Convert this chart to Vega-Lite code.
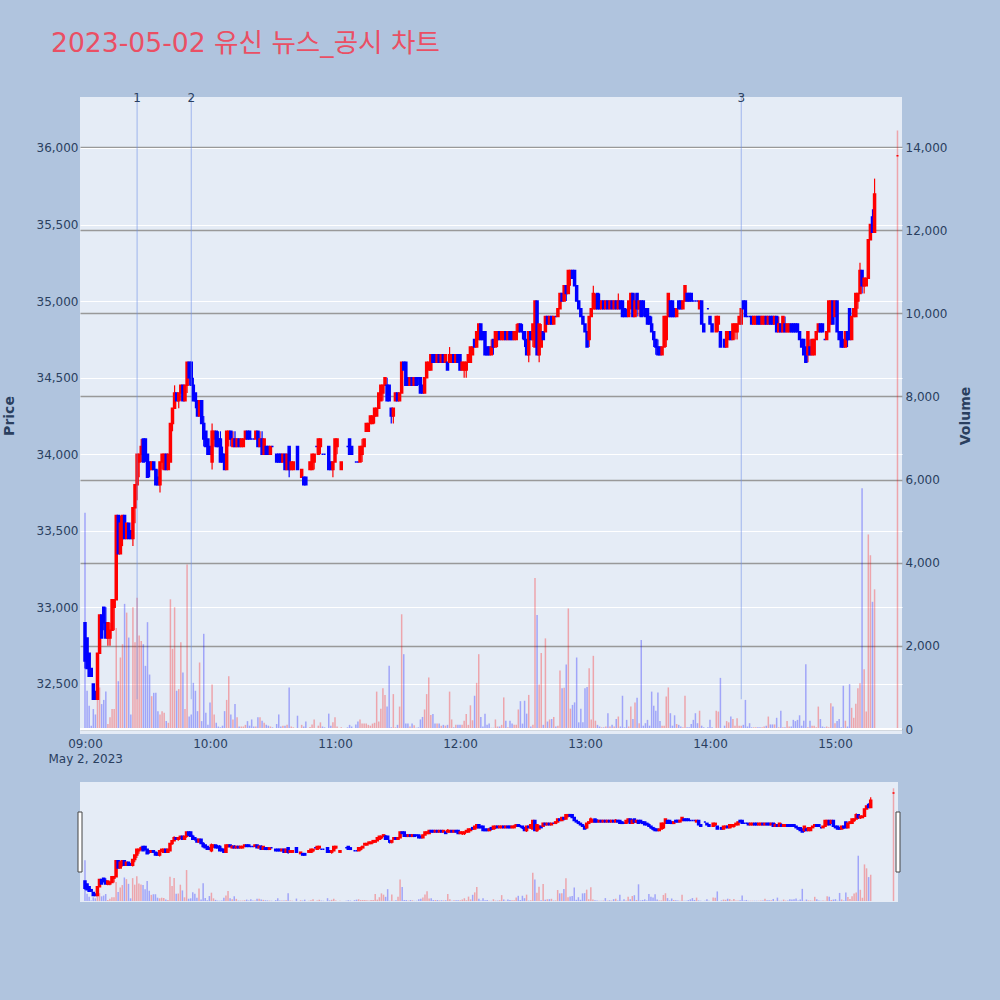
{
"$schema": "https://vega.github.io/schema/vega-lite/v6.json",
"background": "#b0c4de",
"padding": {"left": 2, "top": 31, "right": 27, "bottom": 101},
"title": {"text": "2023-05-02 유신 뉴스_공시 차트", "anchor": "start", "fontSize": 26.6, "fontWeight": "normal", "color": "#ea4f64", "font": "DejaVu Sans, Noto Sans CJK KR", "offset": 34, "dx": 49},
"config": {
  "font": "DejaVu Sans",
  "view": {"fill": "#e5ecf6", "stroke": null},
  "axis": {"labelColor": "#2a3f5f", "labelFontSize": 12, "titleColor": "#2a3f5f", "domain": false, "ticks": false, "labelFont": "DejaVu Sans", "titleFont": "DejaVu Sans"}
},
"data": {"format": {"parse": {"t": "date:'%H:%M'"}}, "values": [
{"t":"09:00","o":32900,"h":32900,"l":32600,"c":32650,"v":5200},
{"t":"09:01","o":32800,"h":32800,"l":32600,"c":32600,"v":920},
{"t":"09:02","o":32700,"h":32700,"l":32550,"c":32550,"v":560},
{"t":"09:03","o":32600,"h":32600,"l":32550,"c":32550,"v":80},
{"t":"09:04","o":32500,"h":32500,"l":32400,"c":32400,"v":480},
{"t":"09:05","o":32450,"h":32450,"l":32400,"c":32400,"v":350},
{"t":"09:06","o":32400,"h":32700,"l":32400,"c":32700,"v":840},
{"t":"09:07","o":32700,"h":32950,"l":32700,"c":32950,"v":1000},
{"t":"09:08","o":32950,"h":32950,"l":32800,"c":32800,"v":600},
{"t":"09:09","o":33000,"h":33000,"l":32850,"c":32900,"v":700},
{"t":"09:10","o":32900,"h":33000,"l":32800,"c":32800,"v":900},
{"t":"09:11","o":32800,"h":32900,"l":32750,"c":32900,"v":120},
{"t":"09:12","o":32800,"h":32900,"l":32750,"c":32850,"v":280},
{"t":"09:13","o":32850,"h":33050,"l":32850,"c":33050,"v":480},
{"t":"09:14","o":33000,"h":33050,"l":32850,"c":33050,"v":480},
{"t":"09:15","o":33050,"h":33600,"l":33050,"c":33600,"v":2430},
{"t":"09:16","o":33600,"h":33600,"l":33350,"c":33350,"v":1150},
{"t":"09:17","o":33350,"h":33600,"l":33350,"c":33550,"v":1720},
{"t":"09:18","o":33450,"h":33600,"l":33400,"c":33600,"v":2040},
{"t":"09:19","o":33600,"h":33600,"l":33450,"c":33450,"v":3010},
{"t":"09:20","o":33450,"h":33550,"l":33450,"c":33550,"v":2800},
{"t":"09:21","o":33550,"h":33550,"l":33450,"c":33450,"v":2200},
{"t":"09:22","o":33500,"h":33500,"l":33450,"c":33450,"v":350},
{"t":"09:23","o":33450,"h":33650,"l":33400,"c":33650,"v":2930},
{"t":"09:24","o":33650,"h":33800,"l":33550,"c":33800,"v":2090},
{"t":"09:25","o":33800,"h":34000,"l":33700,"c":34000,"v":3160},
{"t":"09:26","o":33950,"h":34000,"l":33850,"c":34000,"v":2250},
{"t":"09:27","o":34000,"h":34100,"l":33950,"c":34050,"v":2120},
{"t":"09:28","o":34100,"h":34100,"l":33950,"c":33950,"v":2040},
{"t":"09:29","o":34100,"h":34100,"l":33950,"c":34000,"v":1520},
{"t":"09:30","o":34000,"h":34000,"l":33850,"c":33850,"v":2570},
{"t":"09:31","o":33950,"h":33950,"l":33850,"c":33900,"v":1310},
{"t":"09:32","o":33900,"h":33950,"l":33900,"c":33950,"v":790},
{"t":"09:33","o":33950,"h":33950,"l":33900,"c":33900,"v":870},
{"t":"09:34","o":33900,"h":33900,"l":33800,"c":33800,"v":870},
{"t":"09:35","o":33850,"h":33900,"l":33800,"c":33800,"v":430},
{"t":"09:36","o":33800,"h":33950,"l":33750,"c":33950,"v":350},
{"t":"09:37","o":33950,"h":34000,"l":33900,"c":34000,"v":430},
{"t":"09:38","o":33900,"h":34000,"l":33900,"c":34000,"v":390},
{"t":"09:39","o":34000,"h":34000,"l":33900,"c":33900,"v":190},
{"t":"09:40","o":33900,"h":34000,"l":33900,"c":34000,"v":150},
{"t":"09:41","o":33950,"h":34200,"l":33950,"c":34200,"v":3120},
{"t":"09:42","o":34200,"h":34300,"l":34150,"c":34300,"v":1930},
{"t":"09:43","o":34300,"h":34450,"l":34300,"c":34400,"v":2930},
{"t":"09:44","o":34400,"h":34400,"l":34350,"c":34350,"v":920},
{"t":"09:45","o":34350,"h":34400,"l":34300,"c":34400,"v":960},
{"t":"09:46","o":34400,"h":34450,"l":34350,"c":34450,"v":2090},
{"t":"09:47","o":34450,"h":34450,"l":34350,"c":34350,"v":1360},
{"t":"09:48","o":34350,"h":34450,"l":34350,"c":34450,"v":480},
{"t":"09:49","o":34450,"h":34600,"l":34400,"c":34600,"v":3960},
{"t":"09:50","o":34600,"h":34600,"l":34450,"c":34500,"v":300},
{"t":"09:51","o":34600,"h":34600,"l":34450,"c":34450,"v":350},
{"t":"09:52","o":34450,"h":34500,"l":34350,"c":34350,"v":1110},
{"t":"09:53","o":34400,"h":34400,"l":34300,"c":34350,"v":920},
{"t":"09:54","o":34350,"h":34350,"l":34250,"c":34250,"v":430},
{"t":"09:55","o":34250,"h":34350,"l":34250,"c":34350,"v":1600},
{"t":"09:56","o":34350,"h":34350,"l":34200,"c":34200,"v":190},
{"t":"09:57","o":34200,"h":34250,"l":34050,"c":34100,"v":2290},
{"t":"09:58","o":34150,"h":34150,"l":34050,"c":34050,"v":390},
{"t":"09:59","o":34100,"h":34100,"l":34000,"c":34000,"v":100},
{"t":"10:00","o":34050,"h":34050,"l":34000,"c":34000,"v":640},
{"t":"10:01","o":33950,"h":34200,"l":33900,"c":34150,"v":1070},
{"t":"10:02","o":34100,"h":34150,"l":34050,"c":34150,"v":350},
{"t":"10:03","o":34150,"h":34150,"l":34050,"c":34050,"v":150},
{"t":"10:04","o":34100,"h":34150,"l":34050,"c":34050,"v":60},
{"t":"10:05","o":34100,"h":34150,"l":33950,"c":33950,"v":40},
{"t":"10:06","o":34000,"h":34050,"l":33950,"c":33950,"v":80},
{"t":"10:07","o":34000,"h":34000,"l":33900,"c":33900,"v":430},
{"t":"10:08","o":33900,"h":34150,"l":33900,"c":34150,"v":700},
{"t":"10:09","o":34100,"h":34150,"l":34050,"c":34150,"v":1270},
{"t":"10:10","o":34150,"h":34150,"l":34050,"c":34100,"v":350},
{"t":"10:11","o":34050,"h":34150,"l":34050,"c":34100,"v":230},
{"t":"10:12","o":34100,"h":34150,"l":34050,"c":34050,"v":600},
{"t":"10:13","o":34050,"h":34100,"l":34050,"c":34100,"v":280},
{"t":"10:14","o":34100,"h":34100,"l":34050,"c":34050,"v":60},
{"t":"10:15","o":34050,"h":34100,"l":34050,"c":34100,"v":60},
{"t":"10:16","o":34050,"h":34100,"l":34050,"c":34100,"v":60},
{"t":"10:17","o":34100,"h":34150,"l":34100,"c":34150,"v":100},
{"t":"10:18","o":34150,"h":34150,"l":34100,"c":34100,"v":190},
{"t":"10:19","o":34150,"h":34150,"l":34100,"c":34100,"v":80},
{"t":"10:20","o":34100,"h":34100,"l":34100,"c":34100,"v":230},
{"t":"10:21","o":34100,"h":34100,"l":34100,"c":34100,"v":60},
{"t":"10:22","o":34100,"h":34150,"l":34100,"c":34150,"v":60},
{"t":"10:23","o":34150,"h":34150,"l":34050,"c":34050,"v":280},
{"t":"10:24","o":34050,"h":34150,"l":34050,"c":34100,"v":280},
{"t":"10:25","o":34100,"h":34150,"l":34000,"c":34000,"v":200},
{"t":"10:26","o":34000,"h":34100,"l":34000,"c":34100,"v":150},
{"t":"10:27","o":34050,"h":34050,"l":34000,"c":34000,"v":100},
{"t":"10:28","o":34050,"h":34050,"l":34000,"c":34000,"v":80},
{"t":"10:29","o":34000,"h":34050,"l":34000,"c":34050,"v":60},
{"t":"10:30","o":34050,"h":34050,"l":34050,"c":34050,"v":40},
{"t":"10:32","o":34000,"h":34000,"l":33950,"c":33950,"v":120},
{"t":"10:33","o":34000,"h":34000,"l":33950,"c":33950,"v":350},
{"t":"10:34","o":34000,"h":34000,"l":33950,"c":33950,"v":60},
{"t":"10:35","o":33950,"h":34000,"l":33950,"c":34000,"v":80},
{"t":"10:36","o":34000,"h":34000,"l":33900,"c":33900,"v":80},
{"t":"10:37","o":33900,"h":34000,"l":33900,"c":34000,"v":100},
{"t":"10:38","o":34050,"h":34050,"l":33850,"c":33900,"v":1000},
{"t":"10:39","o":33900,"h":33950,"l":33900,"c":33950,"v":60},
{"t":"10:40","o":33900,"h":33950,"l":33900,"c":33950,"v":40},
{"t":"10:42","o":34050,"h":34050,"l":33900,"c":33900,"v":320},
{"t":"10:44","o":33850,"h":33900,"l":33850,"c":33900,"v":100},
{"t":"10:45","o":33850,"h":33850,"l":33800,"c":33800,"v":60},
{"t":"10:46","o":33850,"h":33850,"l":33800,"c":33800,"v":180},
{"t":"10:48","o":33900,"h":33950,"l":33900,"c":33950,"v":50},
{"t":"10:49","o":33900,"h":34000,"l":33900,"c":34000,"v":110},
{"t":"10:50","o":33950,"h":34000,"l":33900,"c":34000,"v":230},
{"t":"10:51","o":34050,"h":34050,"l":34050,"c":34050,"v":20},
{"t":"10:52","o":34000,"h":34100,"l":34000,"c":34100,"v":80},
{"t":"10:53","o":34050,"h":34100,"l":34000,"c":34100,"v":160},
{"t":"10:54","o":34000,"h":34000,"l":34000,"c":34000,"v":60},
{"t":"10:55","o":34000,"h":34000,"l":34000,"c":34000,"v":40},
{"t":"10:57","o":34050,"h":34050,"l":33900,"c":33900,"v":370},
{"t":"10:58","o":33950,"h":33950,"l":33900,"c":33900,"v":80},
{"t":"10:59","o":33900,"h":33950,"l":33850,"c":33950,"v":160},
{"t":"11:00","o":33950,"h":34100,"l":33950,"c":34100,"v":280},
{"t":"11:01","o":34050,"h":34100,"l":34000,"c":34100,"v":60},
{"t":"11:03","o":33900,"h":33950,"l":33900,"c":33950,"v":40},
{"t":"11:06","o":34050,"h":34050,"l":34050,"c":34050,"v":40},
{"t":"11:07","o":34100,"h":34100,"l":34000,"c":34000,"v":100},
{"t":"11:08","o":34050,"h":34050,"l":34000,"c":34000,"v":60},
{"t":"11:10","o":33950,"h":33950,"l":33950,"c":33950,"v":110},
{"t":"11:11","o":33950,"h":33950,"l":33950,"c":33950,"v":180},
{"t":"11:12","o":33950,"h":34050,"l":33950,"c":34050,"v":230},
{"t":"11:13","o":34000,"h":34100,"l":33950,"c":34050,"v":130},
{"t":"11:14","o":34050,"h":34100,"l":34050,"c":34100,"v":130},
{"t":"11:15","o":34150,"h":34200,"l":34150,"c":34200,"v":130},
{"t":"11:16","o":34150,"h":34200,"l":34150,"c":34200,"v":100},
{"t":"11:17","o":34200,"h":34250,"l":34200,"c":34250,"v":80},
{"t":"11:18","o":34200,"h":34250,"l":34200,"c":34250,"v":130},
{"t":"11:19","o":34250,"h":34300,"l":34200,"c":34300,"v":150},
{"t":"11:20","o":34250,"h":34300,"l":34250,"c":34300,"v":900},
{"t":"11:21","o":34300,"h":34400,"l":34300,"c":34400,"v":180},
{"t":"11:22","o":34350,"h":34450,"l":34350,"c":34450,"v":490},
{"t":"11:23","o":34400,"h":34450,"l":34350,"c":34450,"v":980},
{"t":"11:24","o":34450,"h":34500,"l":34450,"c":34500,"v":820},
{"t":"11:25","o":34450,"h":34500,"l":34350,"c":34350,"v":540},
{"t":"11:26","o":34450,"h":34450,"l":34350,"c":34350,"v":1520},
{"t":"11:27","o":34300,"h":34300,"l":34200,"c":34250,"v":40},
{"t":"11:28","o":34250,"h":34300,"l":34200,"c":34300,"v":840},
{"t":"11:29","o":34350,"h":34400,"l":34350,"c":34400,"v":40},
{"t":"11:30","o":34400,"h":34400,"l":34350,"c":34350,"v":100},
{"t":"11:31","o":34350,"h":34400,"l":34350,"c":34400,"v":540},
{"t":"11:32","o":34400,"h":34600,"l":34400,"c":34600,"v":2760},
{"t":"11:33","o":34600,"h":34600,"l":34550,"c":34550,"v":1800},
{"t":"11:34","o":34600,"h":34600,"l":34450,"c":34450,"v":130},
{"t":"11:35","o":34500,"h":34500,"l":34450,"c":34450,"v":130},
{"t":"11:36","o":34450,"h":34500,"l":34450,"c":34500,"v":60},
{"t":"11:37","o":34500,"h":34500,"l":34450,"c":34450,"v":130},
{"t":"11:38","o":34450,"h":34500,"l":34450,"c":34500,"v":90},
{"t":"11:39","o":34500,"h":34500,"l":34450,"c":34450,"v":30},
{"t":"11:40","o":34500,"h":34500,"l":34450,"c":34500,"v":40},
{"t":"11:41","o":34500,"h":34500,"l":34400,"c":34400,"v":230},
{"t":"11:42","o":34450,"h":34450,"l":34400,"c":34400,"v":290},
{"t":"11:43","o":34400,"h":34500,"l":34400,"c":34500,"v":470},
{"t":"11:44","o":34500,"h":34600,"l":34500,"c":34600,"v":840},
{"t":"11:45","o":34550,"h":34600,"l":34550,"c":34600,"v":1240},
{"t":"11:46","o":34550,"h":34650,"l":34550,"c":34650,"v":340},
{"t":"11:47","o":34650,"h":34650,"l":34600,"c":34600,"v":360},
{"t":"11:48","o":34650,"h":34650,"l":34600,"c":34600,"v":130},
{"t":"11:49","o":34600,"h":34650,"l":34600,"c":34650,"v":130},
{"t":"11:50","o":34650,"h":34650,"l":34600,"c":34600,"v":130},
{"t":"11:51","o":34600,"h":34650,"l":34600,"c":34650,"v":80},
{"t":"11:52","o":34650,"h":34650,"l":34600,"c":34600,"v":100},
{"t":"11:53","o":34600,"h":34650,"l":34600,"c":34650,"v":80},
{"t":"11:54","o":34600,"h":34600,"l":34550,"c":34550,"v":100},
{"t":"11:55","o":34600,"h":34700,"l":34600,"c":34650,"v":900},
{"t":"11:56","o":34600,"h":34650,"l":34600,"c":34650,"v":230},
{"t":"11:57","o":34650,"h":34650,"l":34600,"c":34600,"v":40},
{"t":"11:58","o":34600,"h":34650,"l":34600,"c":34650,"v":100},
{"t":"11:59","o":34650,"h":34650,"l":34600,"c":34600,"v":100},
{"t":"12:00","o":34650,"h":34650,"l":34550,"c":34550,"v":100},
{"t":"12:01","o":34550,"h":34600,"l":34550,"c":34600,"v":100},
{"t":"12:02","o":34550,"h":34600,"l":34500,"c":34600,"v":200},
{"t":"12:03","o":34550,"h":34600,"l":34500,"c":34600,"v":360},
{"t":"12:04","o":34600,"h":34650,"l":34600,"c":34650,"v":100},
{"t":"12:05","o":34600,"h":34700,"l":34600,"c":34700,"v":570},
{"t":"12:06","o":34650,"h":34700,"l":34650,"c":34700,"v":210},
{"t":"12:07","o":34750,"h":34750,"l":34700,"c":34700,"v":800},
{"t":"12:08","o":34700,"h":34800,"l":34700,"c":34800,"v":1110},
{"t":"12:09","o":34750,"h":34850,"l":34750,"c":34850,"v":1800},
{"t":"12:10","o":34850,"h":34850,"l":34750,"c":34750,"v":290},
{"t":"12:11","o":34800,"h":34800,"l":34750,"c":34750,"v":60},
{"t":"12:12","o":34800,"h":34800,"l":34650,"c":34650,"v":370},
{"t":"12:13","o":34700,"h":34700,"l":34650,"c":34650,"v":100},
{"t":"12:14","o":34700,"h":34700,"l":34650,"c":34650,"v":130},
{"t":"12:15","o":34650,"h":34750,"l":34650,"c":34700,"v":30},
{"t":"12:16","o":34750,"h":34750,"l":34650,"c":34700,"v":30},
{"t":"12:17","o":34700,"h":34800,"l":34700,"c":34800,"v":230},
{"t":"12:18","o":34750,"h":34800,"l":34700,"c":34800,"v":60},
{"t":"12:19","o":34800,"h":34800,"l":34750,"c":34750,"v":60},
{"t":"12:20","o":34750,"h":34800,"l":34750,"c":34800,"v":100},
{"t":"12:21","o":34750,"h":34800,"l":34750,"c":34800,"v":760},
{"t":"12:22","o":34800,"h":34800,"l":34750,"c":34750,"v":200},
{"t":"12:23","o":34750,"h":34800,"l":34750,"c":34800,"v":40},
{"t":"12:24","o":34800,"h":34800,"l":34750,"c":34750,"v":200},
{"t":"12:25","o":34800,"h":34800,"l":34750,"c":34750,"v":130},
{"t":"12:26","o":34750,"h":34800,"l":34750,"c":34800,"v":100},
{"t":"12:27","o":34750,"h":34850,"l":34750,"c":34800,"v":100},
{"t":"12:28","o":34800,"h":34850,"l":34800,"c":34850,"v":470},
{"t":"12:29","o":34850,"h":34850,"l":34800,"c":34800,"v":670},
{"t":"12:30","o":34800,"h":34850,"l":34750,"c":34800,"v":130},
{"t":"12:31","o":34800,"h":34800,"l":34700,"c":34750,"v":680},
{"t":"12:32","o":34750,"h":34750,"l":34650,"c":34650,"v":370},
{"t":"12:33","o":34650,"h":34800,"l":34600,"c":34800,"v":820},
{"t":"12:34","o":34800,"h":34800,"l":34750,"c":34750,"v":60},
{"t":"12:35","o":34750,"h":34850,"l":34700,"c":34850,"v":100},
{"t":"12:36","o":34700,"h":35000,"l":34700,"c":35000,"v":3630},
{"t":"12:37","o":35000,"h":35000,"l":34650,"c":34650,"v":2740},
{"t":"12:38","o":34650,"h":34850,"l":34600,"c":34850,"v":1070},
{"t":"12:39","o":34700,"h":34850,"l":34700,"c":34800,"v":1830},
{"t":"12:40","o":34800,"h":34800,"l":34750,"c":34750,"v":100},
{"t":"12:41","o":34800,"h":34900,"l":34800,"c":34900,"v":2180},
{"t":"12:42","o":34900,"h":34900,"l":34850,"c":34850,"v":180},
{"t":"12:43","o":34850,"h":34900,"l":34850,"c":34900,"v":230},
{"t":"12:44","o":34900,"h":34900,"l":34850,"c":34850,"v":240},
{"t":"12:45","o":34850,"h":34900,"l":34850,"c":34900,"v":290},
{"t":"12:46","o":34900,"h":34900,"l":34900,"c":34900,"v":60},
{"t":"12:47","o":34900,"h":34950,"l":34900,"c":34950,"v":80},
{"t":"12:48","o":34950,"h":35050,"l":34950,"c":35050,"v":1410},
{"t":"12:49","o":35050,"h":35050,"l":35000,"c":35000,"v":980},
{"t":"12:50","o":35000,"h":35100,"l":35000,"c":35100,"v":990},
{"t":"12:51","o":35100,"h":35100,"l":35000,"c":35050,"v":1550},
{"t":"12:52","o":35050,"h":35200,"l":35050,"c":35200,"v":2900},
{"t":"12:53","o":35150,"h":35200,"l":35100,"c":35200,"v":490},
{"t":"12:54","o":35200,"h":35200,"l":35150,"c":35150,"v":580},
{"t":"12:55","o":35200,"h":35200,"l":35100,"c":35100,"v":640},
{"t":"12:56","o":35100,"h":35100,"l":35000,"c":35000,"v":1720},
{"t":"12:57","o":35000,"h":35000,"l":34950,"c":34950,"v":160},
{"t":"12:58","o":34950,"h":34950,"l":34900,"c":34900,"v":490},
{"t":"12:59","o":34900,"h":34900,"l":34850,"c":34850,"v":160},
{"t":"13:00","o":34850,"h":34850,"l":34800,"c":34800,"v":980},
{"t":"13:01","o":34800,"h":34800,"l":34700,"c":34700,"v":1010},
{"t":"13:02","o":34750,"h":34900,"l":34700,"c":34900,"v":1460},
{"t":"13:03","o":34900,"h":34950,"l":34900,"c":34950,"v":230},
{"t":"13:04","o":34950,"h":35100,"l":34950,"c":35050,"v":1760},
{"t":"13:05","o":34950,"h":35050,"l":34950,"c":35000,"v":200},
{"t":"13:06","o":35050,"h":35050,"l":34950,"c":34950,"v":100},
{"t":"13:07","o":35000,"h":35050,"l":34950,"c":34950,"v":60},
{"t":"13:08","o":34950,"h":35000,"l":34950,"c":35000,"v":40},
{"t":"13:09","o":35000,"h":35000,"l":34950,"c":34950,"v":40},
{"t":"13:10","o":34950,"h":35000,"l":34950,"c":35000,"v":60},
{"t":"13:11","o":35000,"h":35000,"l":34950,"c":34950,"v":380},
{"t":"13:12","o":34950,"h":35000,"l":34950,"c":35000,"v":60},
{"t":"13:13","o":35000,"h":35000,"l":34950,"c":34950,"v":100},
{"t":"13:14","o":34950,"h":35000,"l":34950,"c":35000,"v":60},
{"t":"13:15","o":35000,"h":35000,"l":34950,"c":34950,"v":240},
{"t":"13:16","o":34950,"h":35050,"l":34950,"c":35000,"v":300},
{"t":"13:17","o":35000,"h":35000,"l":34950,"c":34950,"v":60},
{"t":"13:18","o":35000,"h":35000,"l":34900,"c":34900,"v":800},
{"t":"13:19","o":34950,"h":34950,"l":34900,"c":34900,"v":40},
{"t":"13:20","o":34900,"h":34950,"l":34900,"c":34900,"v":220},
{"t":"13:21","o":34900,"h":35000,"l":34900,"c":35000,"v":60},
{"t":"13:22","o":34950,"h":35050,"l":34950,"c":35050,"v":540},
{"t":"13:23","o":35050,"h":35050,"l":34900,"c":34900,"v":240},
{"t":"13:24","o":34900,"h":35050,"l":34900,"c":35000,"v":640},
{"t":"13:25","o":35050,"h":35050,"l":34900,"c":34950,"v":750},
{"t":"13:26","o":34950,"h":35000,"l":34900,"c":35000,"v":140},
{"t":"13:27","o":35000,"h":35000,"l":34900,"c":34900,"v":2140},
{"t":"13:28","o":35000,"h":35000,"l":34900,"c":34950,"v":80},
{"t":"13:29","o":34950,"h":34950,"l":34900,"c":34900,"v":140},
{"t":"13:30","o":34950,"h":34950,"l":34850,"c":34850,"v":220},
{"t":"13:31","o":34900,"h":34900,"l":34850,"c":34850,"v":80},
{"t":"13:32","o":34850,"h":34900,"l":34800,"c":34800,"v":900},
{"t":"13:33","o":34800,"h":34800,"l":34700,"c":34750,"v":560},
{"t":"13:34","o":34750,"h":34750,"l":34650,"c":34700,"v":440},
{"t":"13:35","o":34700,"h":34750,"l":34650,"c":34650,"v":880},
{"t":"13:36","o":34700,"h":34700,"l":34650,"c":34650,"v":190},
{"t":"13:37","o":34650,"h":34700,"l":34650,"c":34700,"v":80},
{"t":"13:38","o":34700,"h":34900,"l":34700,"c":34900,"v":80},
{"t":"13:39","o":34750,"h":34900,"l":34700,"c":34900,"v":780},
{"t":"13:40","o":34900,"h":35050,"l":34900,"c":35050,"v":1000},
{"t":"13:41","o":35000,"h":35000,"l":34900,"c":34900,"v":380},
{"t":"13:42","o":35000,"h":35000,"l":34900,"c":34900,"v":80},
{"t":"13:43","o":34950,"h":34950,"l":34900,"c":34900,"v":330},
{"t":"13:44","o":34900,"h":34950,"l":34900,"c":34950,"v":120},
{"t":"13:45","o":35000,"h":35000,"l":34950,"c":34950,"v":100},
{"t":"13:46","o":35000,"h":35000,"l":34950,"c":34950,"v":60},
{"t":"13:47","o":34950,"h":35000,"l":34950,"c":35000,"v":40},
{"t":"13:48","o":35000,"h":35100,"l":35000,"c":35100,"v":800},
{"t":"13:49","o":35050,"h":35050,"l":35000,"c":35000,"v":40},
{"t":"13:50","o":35050,"h":35050,"l":35000,"c":35000,"v":40},
{"t":"13:51","o":35050,"h":35050,"l":35000,"c":35000,"v":120},
{"t":"13:52","o":35000,"h":35000,"l":35000,"c":35000,"v":220},
{"t":"13:53","o":35000,"h":35000,"l":35000,"c":35000,"v":380},
{"t":"13:54","o":35000,"h":35000,"l":35000,"c":35000,"v":140},
{"t":"13:55","o":34950,"h":35000,"l":34950,"c":35000,"v":440},
{"t":"13:56","o":35000,"h":35000,"l":34850,"c":34850,"v":80},
{"t":"13:57","o":34850,"h":34850,"l":34800,"c":34800,"v":40},
{"t":"13:59","o":34950,"h":34950,"l":34950,"c":34950,"v":40},
{"t":"14:00","o":34900,"h":34900,"l":34850,"c":34850,"v":220},
{"t":"14:01","o":34850,"h":34850,"l":34800,"c":34800,"v":40},
{"t":"14:03","o":34800,"h":34900,"l":34800,"c":34900,"v":440},
{"t":"14:04","o":34850,"h":34900,"l":34800,"c":34900,"v":420},
{"t":"14:05","o":34800,"h":34800,"l":34700,"c":34700,"v":1230},
{"t":"14:07","o":34750,"h":34750,"l":34700,"c":34700,"v":80},
{"t":"14:08","o":34700,"h":34800,"l":34700,"c":34800,"v":190},
{"t":"14:09","o":34750,"h":34800,"l":34750,"c":34800,"v":160},
{"t":"14:10","o":34800,"h":34800,"l":34750,"c":34750,"v":300},
{"t":"14:11","o":34750,"h":34850,"l":34750,"c":34850,"v":240},
{"t":"14:12","o":34800,"h":34850,"l":34750,"c":34850,"v":80},
{"t":"14:13","o":34800,"h":34850,"l":34750,"c":34850,"v":260},
{"t":"14:14","o":34850,"h":34900,"l":34850,"c":34900,"v":80},
{"t":"14:15","o":34850,"h":34950,"l":34850,"c":34950,"v":80},
{"t":"14:16","o":35000,"h":35000,"l":34950,"c":34950,"v":100},
{"t":"14:17","o":35000,"h":35000,"l":34900,"c":34900,"v":700},
{"t":"14:18","o":34900,"h":34900,"l":34900,"c":34900,"v":60},
{"t":"14:19","o":34900,"h":34900,"l":34900,"c":34900,"v":140},
{"t":"14:20","o":34900,"h":34900,"l":34850,"c":34850,"v":40},
{"t":"14:21","o":34850,"h":34900,"l":34850,"c":34900,"v":40},
{"t":"14:22","o":34850,"h":34900,"l":34850,"c":34900,"v":40},
{"t":"14:23","o":34900,"h":34900,"l":34850,"c":34850,"v":40},
{"t":"14:24","o":34900,"h":34900,"l":34850,"c":34850,"v":40},
{"t":"14:25","o":34850,"h":34900,"l":34850,"c":34900,"v":40},
{"t":"14:26","o":34850,"h":34900,"l":34850,"c":34900,"v":60},
{"t":"14:27","o":34900,"h":34900,"l":34850,"c":34850,"v":80},
{"t":"14:28","o":34850,"h":34900,"l":34850,"c":34900,"v":300},
{"t":"14:29","o":34900,"h":34900,"l":34850,"c":34850,"v":110},
{"t":"14:30","o":34900,"h":34900,"l":34850,"c":34850,"v":110},
{"t":"14:31","o":34850,"h":34900,"l":34850,"c":34900,"v":110},
{"t":"14:32","o":34900,"h":34900,"l":34800,"c":34800,"v":270},
{"t":"14:33","o":34800,"h":34900,"l":34800,"c":34850,"v":40},
{"t":"14:34","o":34850,"h":34850,"l":34800,"c":34800,"v":440},
{"t":"14:35","o":34800,"h":34900,"l":34800,"c":34900,"v":40},
{"t":"14:36","o":34850,"h":34900,"l":34800,"c":34800,"v":40},
{"t":"14:37","o":34800,"h":34850,"l":34800,"c":34850,"v":190},
{"t":"14:38","o":34800,"h":34850,"l":34800,"c":34850,"v":60},
{"t":"14:39","o":34850,"h":34850,"l":34800,"c":34800,"v":60},
{"t":"14:40","o":34850,"h":34850,"l":34800,"c":34800,"v":220},
{"t":"14:41","o":34850,"h":34850,"l":34800,"c":34800,"v":190},
{"t":"14:42","o":34850,"h":34850,"l":34800,"c":34800,"v":220},
{"t":"14:43","o":34800,"h":34800,"l":34750,"c":34750,"v":330},
{"t":"14:44","o":34750,"h":34750,"l":34700,"c":34700,"v":80},
{"t":"14:45","o":34750,"h":34750,"l":34650,"c":34650,"v":200},
{"t":"14:46","o":34700,"h":34700,"l":34600,"c":34600,"v":1560},
{"t":"14:47","o":34650,"h":34800,"l":34600,"c":34800,"v":40},
{"t":"14:48","o":34700,"h":34750,"l":34650,"c":34650,"v":200},
{"t":"14:49","o":34650,"h":34750,"l":34650,"c":34750,"v":80},
{"t":"14:50","o":34650,"h":34750,"l":34650,"c":34750,"v":80},
{"t":"14:51","o":34750,"h":34800,"l":34750,"c":34800,"v":40},
{"t":"14:52","o":34800,"h":34850,"l":34800,"c":34850,"v":540},
{"t":"14:53","o":34850,"h":34850,"l":34800,"c":34800,"v":240},
{"t":"14:54","o":34850,"h":34850,"l":34800,"c":34800,"v":60},
{"t":"14:55","o":34750,"h":34750,"l":34750,"c":34750,"v":40},
{"t":"14:56","o":34750,"h":34800,"l":34750,"c":34800,"v":60},
{"t":"14:57","o":34800,"h":35000,"l":34800,"c":35000,"v":40},
{"t":"14:58","o":34850,"h":35000,"l":34850,"c":35000,"v":620},
{"t":"14:59","o":35000,"h":35000,"l":34850,"c":34850,"v":540},
{"t":"15:00","o":34900,"h":35000,"l":34900,"c":35000,"v":140},
{"t":"15:01","o":35000,"h":35000,"l":34800,"c":34800,"v":190},
{"t":"15:02","o":34800,"h":34800,"l":34750,"c":34750,"v":240},
{"t":"15:03","o":34800,"h":34800,"l":34700,"c":34700,"v":40},
{"t":"15:04","o":34750,"h":34750,"l":34700,"c":34700,"v":1040},
{"t":"15:05","o":34700,"h":34800,"l":34700,"c":34800,"v":200},
{"t":"15:06","o":34800,"h":34800,"l":34700,"c":34750,"v":60},
{"t":"15:07","o":34950,"h":34950,"l":34750,"c":34750,"v":1080},
{"t":"15:08","o":34750,"h":34900,"l":34750,"c":34900,"v":510},
{"t":"15:09","o":34900,"h":34950,"l":34900,"c":34950,"v":270},
{"t":"15:10","o":34900,"h":35050,"l":34900,"c":35050,"v":610},
{"t":"15:11","o":35000,"h":35050,"l":34950,"c":35050,"v":980},
{"t":"15:12","o":35050,"h":35250,"l":35050,"c":35200,"v":1100},
{"t":"15:13","o":35200,"h":35200,"l":35050,"c":35100,"v":5790},
{"t":"15:14","o":35100,"h":35150,"l":35050,"c":35150,"v":1440},
{"t":"15:15","o":35100,"h":35150,"l":35100,"c":35150,"v":420},
{"t":"15:16","o":35150,"h":35400,"l":35150,"c":35400,"v":4680},
{"t":"15:17","o":35400,"h":35500,"l":35400,"c":35500,"v":4180},
{"t":"15:18","o":35550,"h":35600,"l":35450,"c":35450,"v":3060},
{"t":"15:19","o":35450,"h":35800,"l":35450,"c":35700,"v":3360},
{"t":"15:30","o":35950,"h":35950,"l":35950,"c":35950,"v":14400}
]},
"spacing": 18,
"vconcat": [
{
  "width": 822, "height": 637,
  "layer": [
    {
      "layer": [
        {
          "mark": {"type": "bar", "width": 1.5, "opacity": 0.3},
          "encoding": {
            "x": {"field": "t", "type": "temporal",
                  "scale": {"nice": false, "padding": 0, "domain": [{"year": 1900, "month": 1, "date": 1, "hours": 8, "minutes": 57, "seconds": 36}, {"year": 1900, "month": 1, "date": 1, "hours": 15, "minutes": 32, "seconds": 10}]},
                  "axis": {"grid": false, "format": "%H:%M", "tickCount": 7, "labelPadding": 4, "labelFlush": false, "title": "May 2, 2023", "titleFontSize": 12, "titleFontWeight": "normal", "titleAlign": "left", "titleX": -32, "titlePadding": 4}},
            "y": {"field": "v", "type": "quantitative", "title": "Volume",
                  "scale": {"domain": [-120, 15203], "nice": false, "zero": false},
                  "axis": {"orient": "right", "values": [0, 2000, 4000, 6000, 8000, 10000, 12000, 14000], "format": ",.0f", "labelPadding": 3, "titlePadding": 26, "titleAngle": 270, "titleFontSize": 14, "titleFontWeight": "bold", "grid": true, "gridColor": "#999999", "gridWidth": 1.3}},
            "y2": {"datum": 0},
            "color": {"condition": {"test": "datum.c > datum.o || (datum.c == datum.o && datum.v > 10000)", "value": "#ff0000"}, "value": "#0000ff"}
          }
        },
        {
          "data": {"values": [{"zero": 0}]},
          "mark": {"type": "rule", "color": "#ffffff", "strokeWidth": 2},
          "encoding": {"y": {"field": "zero", "type": "quantitative", "title": "Volume"}}
        }
      ]
    },
    {
      "layer": [
        {
          "mark": {"type": "rule", "strokeWidth": 1.2},
          "encoding": {
            "x": {"field": "t", "type": "temporal"},
            "y": {"field": "l", "type": "quantitative", "title": "Price",
                  "scale": {"domain": [32173, 36333], "nice": false, "zero": false},
                  "axis": {"orient": "left", "values": [32500, 33000, 33500, 34000, 34500, 35000, 35500, 36000], "format": ",.0f", "labelPadding": 2, "titlePadding": 20, "titleFontSize": 14, "titleFontWeight": "bold", "grid": true, "gridColor": "#ffffff", "gridWidth": 1}},
            "y2": {"field": "h"},
            "color": {"condition": {"test": "datum.c > datum.o || (datum.c == datum.o && datum.v > 10000)", "value": "#ff0000"}, "value": "#0000ff"}
          }
        },
        {
          "mark": {"type": "bar", "width": 2, "strokeWidth": 1.5},
          "encoding": {
            "x": {"field": "t", "type": "temporal"},
            "y": {"field": "o", "type": "quantitative", "title": "Price"},
            "y2": {"field": "c"},
            "fill": {"condition": {"test": "datum.c > datum.o || (datum.c == datum.o && datum.v > 10000)", "value": "#ff0000"}, "value": "#0000ff"},
            "stroke": {"condition": {"test": "datum.c > datum.o || (datum.c == datum.o && datum.v > 10000)", "value": "#ff0000"}, "value": "#0000ff"}
          }
        },
        {
          "data": {"values": [{"et": "1900-01-01T09:25:00", "n": "1", "lo": 32400, "hi": 36333}, {"et": "1900-01-01T09:51:00", "n": "2", "lo": 32400, "hi": 36333}, {"et": "1900-01-01T14:15:00", "n": "3", "lo": 32400, "hi": 36333}]},
          "mark": {"type": "rule", "color": "#6f8fe8", "opacity": 0.6, "strokeWidth": 1},
          "encoding": {
            "x": {"field": "et", "type": "temporal"},
            "y": {"field": "lo", "type": "quantitative", "title": "Price"},
            "y2": {"field": "hi"}
          }
        },
        {
          "data": {"values": [{"et": "1900-01-01T09:25:00", "n": "1", "lo": 32400, "hi": 36333}, {"et": "1900-01-01T09:51:00", "n": "2", "lo": 32400, "hi": 36333}, {"et": "1900-01-01T14:15:00", "n": "3", "lo": 32400, "hi": 36333}]},
          "mark": {"type": "text", "fontSize": 12, "color": "#2a3f5f", "baseline": "middle", "dy": 1},
          "encoding": {
            "x": {"field": "et", "type": "temporal"},
            "y": {"field": "hi", "type": "quantitative", "title": "Price"},
            "text": {"field": "n"}
          }
        }
      ]
    }
  ],
  "resolve": {"scale": {"y": "independent"}, "axis": {"y": "independent"}}
},
{
  "width": 818, "height": 120,
  "layer": [
    {
      "mark": {"type": "bar", "width": 1.5, "opacity": 0.3},
      "encoding": {
        "x": {"field": "t", "type": "temporal", "axis": null,
              "scale": {"nice": false, "padding": 0, "domain": [{"year": 1900, "month": 1, "date": 1, "hours": 8, "minutes": 57, "seconds": 36}, {"year": 1900, "month": 1, "date": 1, "hours": 15, "minutes": 32, "seconds": 10}]}},
        "y": {"field": "v", "type": "quantitative", "axis": null, "scale": {"domain": [-120, 15203], "nice": false, "zero": false}},
        "y2": {"datum": 0},
        "color": {"condition": {"test": "datum.c > datum.o || (datum.c == datum.o && datum.v > 10000)", "value": "#ff0000"}, "value": "#0000ff"}
      }
    },
    {
      "layer": [
        {
          "mark": {"type": "rule", "strokeWidth": 1.2},
          "encoding": {
            "x": {"field": "t", "type": "temporal", "axis": null},
            "y": {"field": "l", "type": "quantitative", "axis": null, "scale": {"domain": [32173, 36333], "nice": false, "zero": false}},
            "y2": {"field": "h"},
            "color": {"condition": {"test": "datum.c > datum.o || (datum.c == datum.o && datum.v > 10000)", "value": "#ff0000"}, "value": "#0000ff"}
          }
        },
        {
          "mark": {"type": "bar", "width": 2, "strokeWidth": 1.5},
          "encoding": {
            "x": {"field": "t", "type": "temporal", "axis": null},
            "y": {"field": "o", "type": "quantitative", "axis": null},
            "y2": {"field": "c"},
            "fill": {"condition": {"test": "datum.c > datum.o || (datum.c == datum.o && datum.v > 10000)", "value": "#ff0000"}, "value": "#0000ff"},
            "stroke": {"condition": {"test": "datum.c > datum.o || (datum.c == datum.o && datum.v > 10000)", "value": "#ff0000"}, "value": "#0000ff"}
          }
        },
        {
          "data": {"values": [{"hx": "1900-01-01T08:57:36", "top": 35293, "bot": 33213}, {"hx": "1900-01-01T15:32:10", "top": 35293, "bot": 33213}]},
          "mark": {"type": "bar", "width": 4, "fill": "#ffffff", "stroke": "#444444", "strokeWidth": 1},
          "encoding": {
            "x": {"field": "hx", "type": "temporal", "axis": null},
            "y": {"field": "top", "type": "quantitative", "axis": null},
            "y2": {"field": "bot"}
          }
        }
      ]
    }
  ],
  "resolve": {"scale": {"y": "independent"}}
}
]
}
